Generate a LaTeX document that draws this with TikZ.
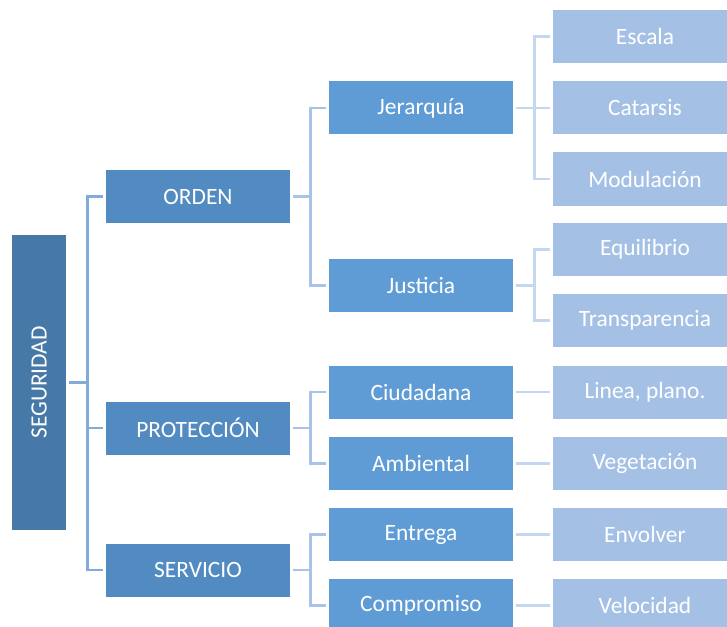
\documentclass[tikz,border=0pt]{standalone}
\usepackage{fontspec}
\setmainfont{Carlito}
\definecolor{cRoot}{HTML}{4779A8}
\definecolor{cLone}{HTML}{528BC2}
\definecolor{cLtwo}{HTML}{5F9CD6}
\definecolor{cLthree}{HTML}{A4C1E5}
\definecolor{kOne}{HTML}{82AADB}
\definecolor{kTwo}{HTML}{A8C3E7}
\definecolor{kThree}{HTML}{C5D7EF}
\begin{document}
\begin{tikzpicture}[x=1bp,y=-1bp,
  box/.style={rectangle,inner sep=0pt,text=white,font=\fontsize{23.5}{27}\selectfont},
  rootbox/.style={box,fill=cRoot,minimum width=54bp,minimum height=295bp},
  lone/.style={box,fill=cLone,minimum width=184bp,minimum height=53bp},
  ltwo/.style={box,fill=cLtwo,minimum width=184bp,minimum height=53bp},
  lthree/.style={box,fill=cLthree,minimum width=184bp,minimum height=53bp},
  cone/.style={draw=kOne,line width=2.6bp},
  ctwo/.style={draw=kTwo,line width=2.6bp},
  cthree/.style={draw=kThree,line width=2.6bp}]
\useasboundingbox (0,0) rectangle (727,627);
\clip (0,0) rectangle (727,627);
% nodes
\node[rootbox] (root) at (39,382.5) {\rotatebox{90}{SEGURIDAD}};
\node[lone] (orden) at (198,196.5) {ORDEN};
\node[lone] (prot) at (198,428) {PROTECCIÓN};
\node[lone] (serv) at (198,570) {SERVICIO};
\node[ltwo] (jer) at (421,108) {Jerarquía};
\node[ltwo] (jus) at (421,285.5) {Justicia};
\node[ltwo] (ciu) at (421,392) {Ciudadana};
\node[ltwo] (amb) at (421,463.5) {Ambiental};
\node[ltwo] (ent) at (421,534.5) {Entrega};
\node[ltwo] (com) at (421,605.5) {Compromiso};
\node[lthree] (esc) at (645,36.5) {Escala};
\node[lthree] (cat) at (645,108) {Catarsis};
\node[lthree] (mod) at (645,179) {Modulación};
\node[lthree] (equ) at (645,249.5) {Equilibrio};
\node[lthree] (tra) at (645,320.5) {Transparencia};
\node[lthree] (lin) at (645,392) {Linea, plano.};
\node[lthree] (veg) at (645,463.5) {Vegetación};
\node[lthree] (env) at (645,534.5) {Envolver};
\node[lthree] (vel) at (645,605.5) {Velocidad};
% root connectors
\draw[cone] ([xshift=3bp]root.east) -- ++(18,0) coordinate (s0);
\foreach \c in {orden,prot,serv} \draw[cone] (s0) |- ([xshift=-3bp]\c.west);
% level 1 -> 2
\draw[ctwo] ([xshift=3bp]orden.east) -- ++(17,0) coordinate (s1);
\foreach \c in {jer,jus} \draw[ctwo] (s1) |- ([xshift=-3bp]\c.west);
\draw[ctwo] ([xshift=3bp]prot.east) -- ++(17,0) coordinate (s2);
\foreach \c in {ciu,amb} \draw[ctwo] (s2) |- ([xshift=-3bp]\c.west);
\draw[ctwo] ([xshift=3bp]serv.east) -- ++(17,0) coordinate (s3);
\foreach \c in {ent,com} \draw[ctwo] (s3) |- ([xshift=-3bp]\c.west);
% level 2 -> 3
\draw[cthree] ([xshift=3bp]jer.east) -- ++(18,0) coordinate (s4);
\foreach \c in {esc,cat,mod} \draw[cthree] (s4) |- ([xshift=-3bp]\c.west);
\draw[cthree] ([xshift=3bp]jus.east) -- ++(18,0) coordinate (s5);
\foreach \c in {equ,tra} \draw[cthree] (s5) |- ([xshift=-3bp]\c.west);
\draw[cthree] ([xshift=3bp]ciu.east) -- ([xshift=-3bp]lin.west);
\draw[cthree] ([xshift=3bp]amb.east) -- ([xshift=-3bp]veg.west);
\draw[cthree] ([xshift=3bp]ent.east) -- ([xshift=-3bp]env.west);
\draw[cthree] ([xshift=3bp]com.east) -- ([xshift=-3bp]vel.west);
\end{tikzpicture}
\end{document}
